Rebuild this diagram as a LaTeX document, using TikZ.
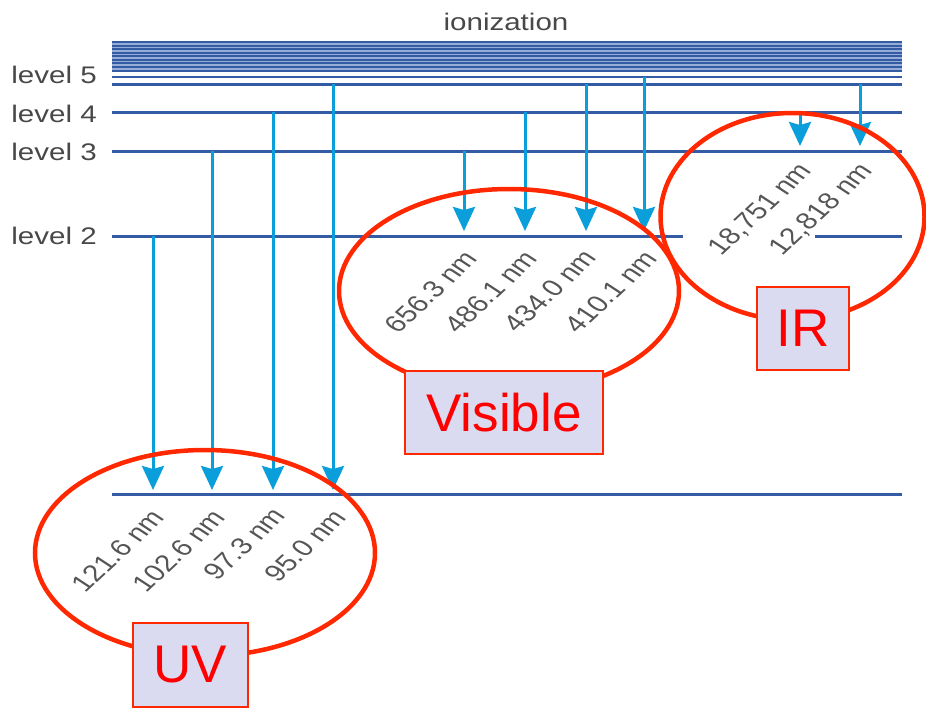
\documentclass[tikz,border=0pt]{standalone}
\usepackage{fontspec}
\setmainfont{Liberation Sans}
\usetikzlibrary{arrows.meta}
\definecolor{lvl}{RGB}{52,92,165}
\definecolor{bandfill}{RGB}{150,174,215}
\definecolor{arr}{RGB}{10,158,218}
\definecolor{lblgray}{RGB}{85,85,85}
\definecolor{ell}{RGB}{255,40,0}
\definecolor{boxfill}{RGB}{218,218,240}
\tikzset{
  levelline/.style={draw=lvl, line width=3pt},
  bandline/.style={draw=lvl, line width=2pt},
  trans/.style={draw=arr, line width=3pt, -{Stealth[width=22pt,length=24pt,inset=3pt]}},
  lvltext/.style={font=\fontsize{24}{28}\selectfont, text=lblgray!85!black, inner sep=0pt, xscale=1.23},
  wl/.style={font=\fontsize{23.5}{27}\selectfont, text=lblgray, inner sep=0pt, anchor=north east,
     cm={0.8228,0.7660,-0.9805,0.6428,(0,0)}},
  ring/.style={draw=ell, line width=4.5pt},
  tag/.style={draw=ell, line width=2pt, fill=boxfill, text=red, font=\fontsize{53}{60}\selectfont, inner sep=0pt, minimum width=#1}
}
\begin{document}
\begin{tikzpicture}[x=1pt,y=-1pt]
\useasboundingbox (0,0) rectangle (926,709);
% ionization band
\fill[bandfill] (112,42) rectangle (902,72);
\foreach \yy in {42.5,46,49.5,53,56.5,60,63.5,67,71} {
  \draw[bandline] (112,\yy) -- (902,\yy);
}
\coordinate (b6l) at (112,77); \coordinate (b6r) at (902,77);
\draw[levelline, line width=2.4pt] (b6l) -- (b6r);
\node[lvltext, anchor=base] (ion) at (506,31) {ionization};
% levels
\coordinate (l5a) at (112,84);  \coordinate (l5b) at (902,84);
\coordinate (l4a) at (112,112); \coordinate (l4b) at (902,112);
\coordinate (l3a) at (112,151); \coordinate (l3b) at (902,151);
\coordinate (l2a) at (112,236); \coordinate (l2b) at (683,236);
\coordinate (l2c) at (815,236); \coordinate (l2d) at (902,236);
\coordinate (l1a) at (112,494); \coordinate (l1b) at (902,494);
\draw[levelline] (l5a) -- (l5b);
\draw[levelline] (l4a) -- (l4b);
\draw[levelline] (l3a) -- (l3b);
\draw[levelline] (l2a) -- (l2b);
\draw[levelline] (l2c) -- (l2d);
\draw[levelline] (l1a) -- (l1b);
\node[lvltext, anchor=base east] (t5) at (97,84) {level 5};
\node[lvltext, anchor=base east] (t4) at (97,122) {level 4};
\node[lvltext, anchor=base east] (t3) at (97,160.5) {level 3};
\node[lvltext, anchor=base east] (t2) at (97,244) {level 2};
% Lyman
\coordinate (u1s) at (153,236); \coordinate (u1e) at (153,490);
\coordinate (u2s) at (212,151); \coordinate (u2e) at (212,490);
\coordinate (u3s) at (273,112); \coordinate (u3e) at (273,490);
\coordinate (u4s) at (333,84);  \coordinate (u4e) at (333,490);
% Balmer
\coordinate (v1s) at (464,151); \coordinate (v1e) at (464,231);
\coordinate (v2s) at (525,112); \coordinate (v2e) at (525,231);
\coordinate (v3s) at (586,84);  \coordinate (v3e) at (586,231);
\coordinate (v4s) at (644,77);  \coordinate (v4e) at (644,231);
% Paschen
\coordinate (p1s) at (800,112); \coordinate (p1e) at (800,146);
\coordinate (p2s) at (860,84);  \coordinate (p2e) at (860,146);
\foreach \a in {u1,u2,u3,u4,v1,v2,v3,v4,p1,p2} {
  \draw[trans] (\a s) -- (\a e);
}
% wavelength labels
\node[wl] (w1) at (150,508) {121.6 nm};
\node[wl] (w2) at (211,508) {102.6 nm};
\node[wl] (w3) at (271,506) {97.3 nm};
\node[wl] (w4) at (332,508) {95.0 nm};
\node[wl] (w5) at (463,249) {656.3 nm};
\node[wl] (w6) at (523,249) {486.1 nm};
\node[wl] (w7) at (582,248) {434.0 nm};
\node[wl] (w8) at (643,249) {410.1 nm};
\node[wl] (w9) at (797,161) {18,751 nm};
\node[wl] (w10) at (858,161) {12,818 nm};
% rings
\draw[ring] (205,553) ellipse [x radius=170, y radius=103];
\draw[ring] (509,291) ellipse [x radius=170, y radius=102];
\draw[ring] (792.5,216.5) ellipse [x radius=132, y radius=103.5];
% tags
\node[tag=115pt, minimum height=84.5pt] (uv) at (190.2,665) {UV};
\node[tag=198pt, minimum height=83pt] (vis) at (504,412.7) {Visible};
\node[tag=92.5pt, minimum height=83pt] (ir) at (803,328.3) {IR};
\end{tikzpicture}
\end{document}
